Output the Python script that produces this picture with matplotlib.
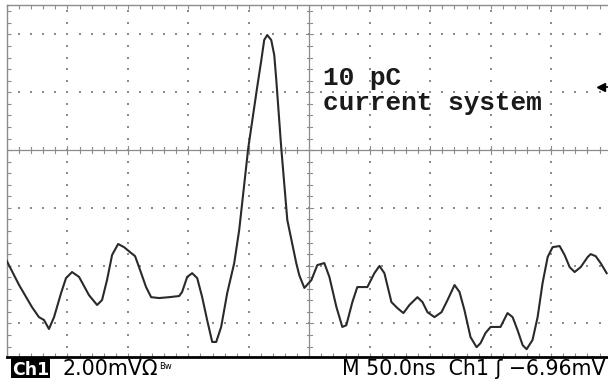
import numpy as np
import matplotlib
matplotlib.use("Agg")
import matplotlib.pyplot as plt
from matplotlib.patches import Rectangle

# Oscilloscope trace: time (ns, relative to screen centre) and voltage (mV, relative to centre line)
time_ns = [-251, -240, -229.4, -223.6, -219.4, -215.3, -211.1, -205.3, -201.2, -196.2,
           -190.4, -182.2, -175.5, -171.4, -167.3, -163.1, -158.1, -153.2, -147.4, -144.1,
           -140.8, -135.0, -130.8, -124.2, -115.9, -107.6, -105.2, -101.0, -96.9, -92.7,
           -88.6, -84.5, -80.3, -77.0, -72.9, -67.9, -62.1, -58.0, -50.5, -43.1,
           -39.7, -37.3, -34.8, -31.5, -29.0, -27.3, -23.2, -18.2, -10.8, -8.3,
           -4.1, 1.7, 6.6, 12.4, 16.6, 22.4, 27.3, 30.6, 35.6, 39.7,
           48.0, 53.8, 58.0, 62.1, 67.9, 72.9, 77.8, 82.8, 89.4, 93.6,
           97.7, 103.5, 109.3, 114.3, 120.1, 124.2, 128.3, 133.3, 138.3, 141.6,
           145.7, 149.9, 158.1, 163.9, 168.1, 172.2, 176.4, 179.7, 184.6, 188.8,
           192.9, 197.1, 201.2, 207.0, 211.1, 215.3, 219.4, 224.4, 230.2, 232.7,
           236.8, 240.9, 245.9]
volt_mV = [-3.77, -4.67, -5.43, -5.78, -5.88, -6.19, -5.78, -4.95, -4.43, -4.22,
           -4.39, -5.02, -5.36, -5.19, -4.50, -3.63, -3.25, -3.36, -3.56, -3.67,
           -4.05, -4.74, -5.09, -5.12, -5.09, -5.05, -4.91, -4.39, -4.26, -4.43,
           -5.09, -5.88, -6.64, -6.64, -6.12, -4.95, -3.91, -2.77, 0.07, 2.18,
           3.11, 3.81, 3.98, 3.81, 3.29, 2.42, 0.07, -2.42, -3.91, -4.33,
           -4.77, -4.50, -3.98, -3.91, -4.39, -5.43, -6.12, -6.06, -5.26, -4.74,
           -4.74, -4.26, -4.01, -4.26, -5.26, -5.47, -5.64, -5.36, -5.09, -5.26,
           -5.61, -5.78, -5.61, -5.19, -4.67, -4.91, -5.54, -6.47, -6.82, -6.68,
           -6.33, -6.12, -6.12, -5.64, -5.78, -6.23, -6.75, -6.89, -6.57, -5.78,
           -4.60, -3.70, -3.36, -3.32, -3.63, -4.05, -4.22, -4.05, -3.70, -3.60,
           -3.67, -3.91, -4.26]

annotation_lines = ["10 pC", "current system"]
status_left = ["Ch1", "2.00mV\u03a9", "Bw"]
status_right = "M 50.0ns  Ch1 \u0283 \u22126.96mV"

TIME_PER_DIV = 50.0
VOLT_PER_DIV = 2.0
XLIM = (-250, 247)
YLIM = (-7.16, 5.02)

W, H = 608, 381
fig = plt.figure(figsize=(W / 100, H / 100), dpi=100)
fig.patch.set_facecolor("white")

ax = fig.add_axes([7 / W, (H - 357) / H, (W - 7) / W, (357 - 5) / H])
ax.set_facecolor("white")

grid_col = "#8c8c8c"
# dotted graticule
xs_minor = np.arange(-250, 251, TIME_PER_DIV / 5)
ys_minor = np.arange(-8, 8.01, VOLT_PER_DIV / 5)
for yv in [-6, -4, -2, 2, 4]:
    ax.scatter(xs_minor, np.full_like(xs_minor, yv), s=1.6, c=grid_col, marker="s", linewidths=0, zorder=1)
for xv in [-200, -150, -100, -50, 50, 100, 150, 200]:
    ax.scatter(np.full_like(ys_minor, xv), ys_minor, s=1.6, c=grid_col, marker="s", linewidths=0, zorder=1)

# centre cross with ticks
ax.axhline(0, color=grid_col, lw=0.9, zorder=1)
ax.axvline(0, color=grid_col, lw=0.9, zorder=1)
for xv in xs_minor:
    h = 0.13 if abs(xv % 50) < 1e-6 else 0.09
    ax.plot([xv, xv], [-h, h], color=grid_col, lw=0.8, zorder=1)
for yv in ys_minor:
    w = 3.0 if abs(yv % 2) < 1e-6 else 2.2
    ax.plot([-w, w], [yv, yv], color=grid_col, lw=0.8, zorder=1)

# trace
ax.plot(time_ns, volt_mV, color="#2a2a2a", lw=1.5, zorder=3, solid_joinstyle="round")

# trigger level marker on the right
ax.plot([241, 247], [2.18, 2.18], color="black", lw=1.2, zorder=4, clip_on=False)
ax.plot([241.5], [2.18], marker="<", color="black", ms=6, zorder=4, clip_on=False)

# annotation text
ax.text(11.6, 2.25, annotation_lines[0], family="Liberation Mono", fontweight="bold",
        fontsize=18.8, va="baseline", ha="left", color="#1a1a1a", zorder=5)
ax.text(11.6, 1.38, annotation_lines[1], family="Liberation Mono", fontweight="bold",
        fontsize=18.8, va="baseline", ha="left", color="#1a1a1a", zorder=5)

# spines and border ticks
ax.spines["right"].set_visible(False)
ax.spines["left"].set_color(grid_col)
ax.spines["left"].set_linewidth(1.0)
ax.spines["top"].set_color(grid_col)
ax.spines["top"].set_linewidth(1.0)
ax.spines["bottom"].set_color("black")
ax.spines["bottom"].set_linewidth(2.0)
ax.set_xticks(xs_minor)
ax.set_yticks(ys_minor)
ax.tick_params(axis="x", direction="in", length=3, width=0.8, color=grid_col,
               labelbottom=False, bottom=True, top=True)
ax.tick_params(axis="y", direction="in", length=3, width=0.8, color=grid_col,
               labelleft=False, left=True, right=False)
ax.set_xlim(*XLIM)
ax.set_ylim(*YLIM)

# status bar
fig.patches.append(Rectangle((11 / W, (H - 378) / H), 39 / W, 21 / H,
                             transform=fig.transFigure, facecolor="black", edgecolor="none"))
fig.text(30.5 / W, (H - 375) / H, status_left[0], color="white", fontsize=12.5,
         fontweight="bold", family="DejaVu Sans", ha="center", va="baseline")
fig.text(63 / W, (H - 375) / H, status_left[1], color="black", fontsize=14.8,
         family="DejaVu Sans", ha="left", va="baseline")
fig.text(159 / W, (H - 369) / H, status_left[2], color="black", fontsize=6,
         family="DejaVu Sans", ha="left", va="baseline")
fig.text(606 / W, (H - 375) / H, status_right, color="black", fontsize=14.8,
         family="DejaVu Sans", ha="right", va="baseline")

fig.savefig("out.png", dpi=100)
